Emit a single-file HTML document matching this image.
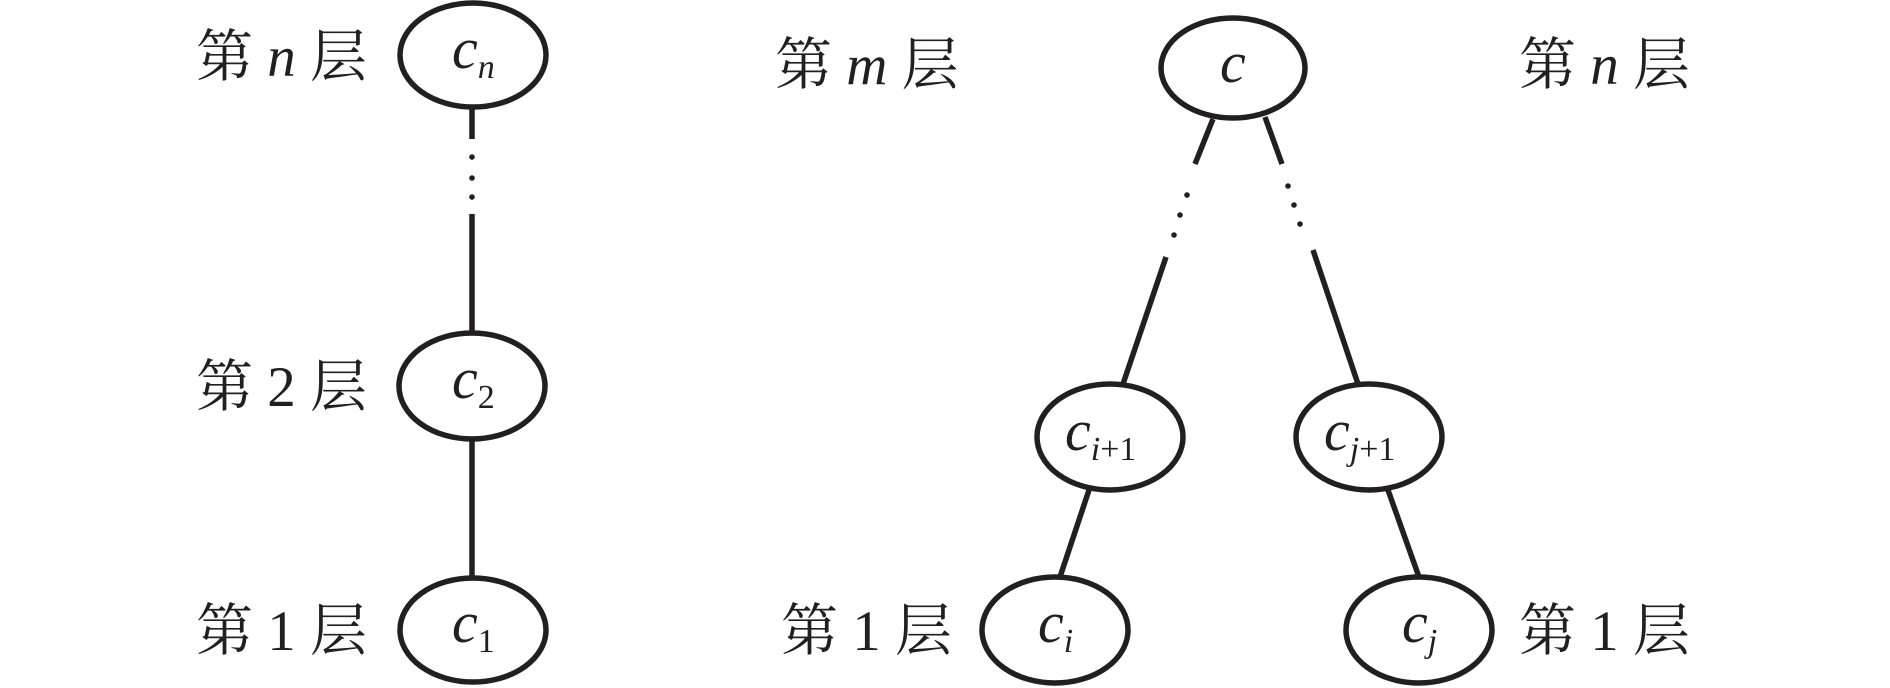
<!DOCTYPE html>
<html><head><meta charset="utf-8"><style>
html,body{margin:0;padding:0;background:#fff;}
svg{display:block;}
.l{font-family:"Liberation Serif","Noto Serif CJK SC",serif;font-size:57px;fill:#231f20;}
.v{font-family:"Liberation Serif",serif;font-style:italic;font-size:58px;fill:#231f20;}
.s{font-family:"Liberation Serif",serif;font-size:34px;}
</style></head><body>
<svg width="1890" height="688" viewBox="0 0 1890 688" xmlns="http://www.w3.org/2000/svg">
<g fill="none" stroke="#231f20" stroke-width="5.5">
<ellipse cx="473" cy="55" rx="73" ry="52"/>
<ellipse cx="472" cy="386" rx="73" ry="53"/>
<ellipse cx="473" cy="630" rx="73" ry="52"/>
<line x1="472" y1="107" x2="472" y2="139"/>
<line x1="472" y1="214" x2="472" y2="333"/>
<line x1="472" y1="439" x2="472" y2="578"/>
<ellipse cx="1233" cy="68" rx="72" ry="50"/>
<ellipse cx="1110" cy="437" rx="73" ry="53"/>
<ellipse cx="1369" cy="437" rx="73" ry="53"/>
<ellipse cx="1055" cy="630" rx="73" ry="53"/>
<ellipse cx="1419" cy="630" rx="73" ry="53"/>
<line x1="1213" y1="119" x2="1195" y2="164"/>
<line x1="1166" y1="257" x2="1123" y2="384"/>
<line x1="1265" y1="117" x2="1282" y2="164"/>
<line x1="1313" y1="250" x2="1358" y2="384"/>
<line x1="1089" y1="490" x2="1060" y2="577"/>
<line x1="1388" y1="490" x2="1419" y2="577"/>
</g>
<g fill="#231f20">
<circle cx="472" cy="157" r="2.8"/><circle cx="472" cy="178" r="2.8"/><circle cx="472" cy="197" r="2.8"/>
<circle cx="1187" cy="195" r="2.8"/><circle cx="1180" cy="215" r="2.8"/><circle cx="1174" cy="235" r="2.8"/>
<circle cx="1288" cy="186" r="2.8"/><circle cx="1294" cy="205" r="2.8"/><circle cx="1300" cy="224" r="2.8"/>
</g>
<text class="l" x="196" y="76">第 <tspan font-style="italic">n</tspan> 层</text>
<text class="l" x="196" y="406">第 2 层</text>
<text class="l" x="196" y="650">第 1 层</text>
<text class="l" x="775" y="84">第 <tspan font-style="italic">m</tspan> 层</text>
<text class="l" x="1519" y="84">第 <tspan font-style="italic">n</tspan> 层</text>
<text class="l" x="781" y="650">第 1 层</text>
<text class="l" x="1519" y="650">第 1 层</text>
<text class="v" x="452" y="68">c<tspan class="s" dy="10">n</tspan></text>
<text class="v" x="452" y="398">c<tspan class="s" dy="10" font-style="normal">2</tspan></text>
<text class="v" x="452" y="642">c<tspan class="s" dy="10" font-style="normal">1</tspan></text>
<text class="v" x="1220" y="82">c</text>
<text class="v" x="1065" y="450">c<tspan class="s" dy="10">i</tspan><tspan class="s" font-style="normal">+1</tspan></text>
<text class="v" x="1324" y="450">c<tspan class="s" dy="10">j</tspan><tspan class="s" font-style="normal">+1</tspan></text>
<text class="v" x="1038" y="642">c<tspan class="s" dy="10">i</tspan></text>
<text class="v" x="1402" y="642">c<tspan class="s" dy="10">j</tspan></text>
</svg>
</body></html>
